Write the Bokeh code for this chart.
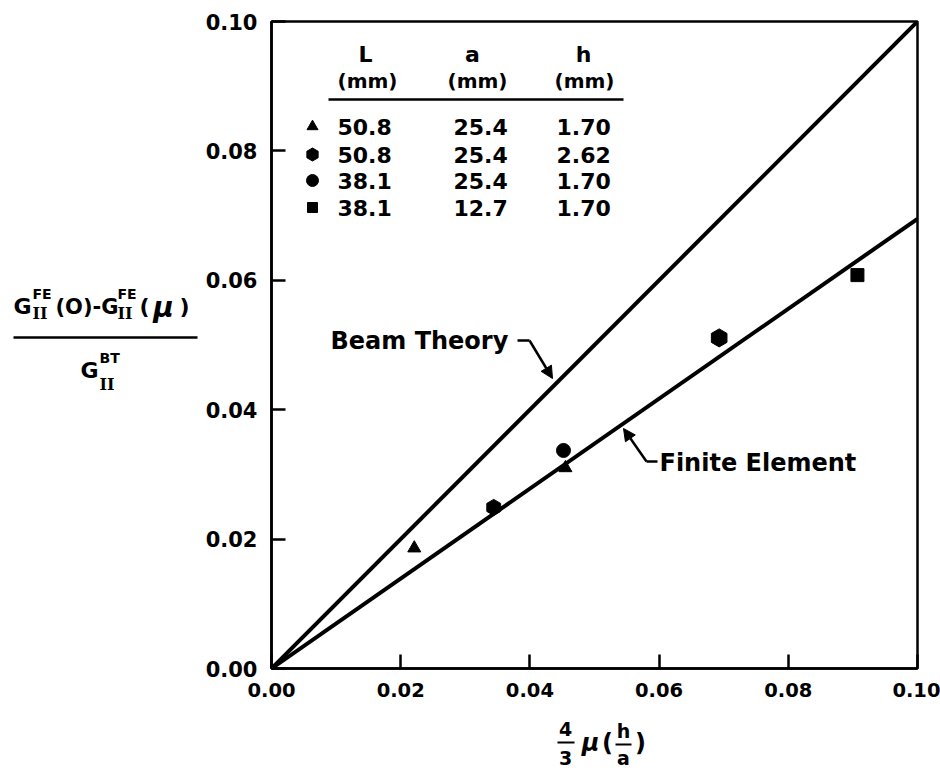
import numpy as np
from bokeh.plotting import figure
from bokeh.layouts import row, column
from bokeh.models import Label, Arrow, NormalHead, FixedTicker, NumeralTickFormatter, Range1d
from bokeh.embed import file_html
from bokeh.resources import INLINE

# ---------------- data ----------------
x_ticks = [0.00, 0.02, 0.04, 0.06, 0.08, 0.10]
y_ticks = [0.00, 0.02, 0.04, 0.06, 0.08, 0.10]

beam_x = [0.0, 0.10]
beam_y = [0.0, 0.10]
fe_x = [0.0, 0.10]
fe_y = [0.0, 0.0695]

tri_x = [0.0221, 0.0455]
tri_y = [0.0186, 0.0310]
hex_x = [0.0344, 0.0693]
hex_y = [0.0249, 0.0511]
circ_x = [0.0452]
circ_y = [0.0337]
sq_x = [0.0907]
sq_y = [0.0608]

tab_L = ["50.8", "50.8", "38.1", "38.1"]
tab_a = ["25.4", "25.4", "25.4", "12.7"]
tab_h = ["1.70", "2.62", "1.70", "1.70"]
tab_marker = ["triangle", "hex", "circle", "square"]
tab_size = [11, 13, 12, 10]

# ---------------- layout constants ----------------
W, H = 940, 773
LEFT_W = 200                 # width of the y-label panel
FL, FT, FW, FH = 271, 21, 646, 647   # frame in page pixels
MAIN_H = 712

FONT = "DejaVu Sans"
SERIF = "DejaVu Serif"

def X(px):
    return (px - FL) / FW * 0.10
def Y(py):
    return (FT + FH - py) / FH * 0.10

def make_label(fig, x, y, text, size="22px", align="left", style="bold",
               font=FONT, baseline="middle"):
    fig.add_layout(Label(x=x, y=y, text=text, text_align=align,
                         text_baseline=baseline, text_font=font,
                         text_font_size=size, text_font_style=style,
                         text_color="black"))

def make_bar(fig, x0, x1, y0, w=2.5):
    fig.add_layout(Arrow(x_start=x0, y_start=y0, x_end=x1, y_end=y0,
                         end=None, line_width=w, line_color="black"))

# ---------------- main figure ----------------
p = figure(width=W - LEFT_W, height=MAIN_H, x_range=(0, 0.10), y_range=(0, 0.10),
           output_backend="svg", toolbar_location=None,
           min_border_left=FL - LEFT_W, min_border_right=W - FL - FW,
           min_border_top=FT, min_border_bottom=MAIN_H - FT - FH)
p.grid.visible = False
p.outline_line_color = "black"
p.outline_line_width = 2.5
p.outline_line_alpha = 1.0

for ax, ticks in ((p.xaxis, x_ticks), (p.yaxis, y_ticks)):
    ax.ticker = FixedTicker(ticks=ticks)
    ax.formatter = NumeralTickFormatter(format="0.00")
    ax.minor_tick_line_color = None
    ax.major_tick_in = 14
    ax.major_tick_out = 0
    ax.major_tick_line_width = 2.5
    ax.major_tick_line_color = "black"
    ax.axis_line_width = 2.5
    ax.axis_line_color = "black"
    ax.major_label_text_font = FONT
    ax.major_label_text_font_style = "bold"
    ax.major_label_text_color = "black"
p.xaxis.major_label_text_font_size = "19.5px"
p.yaxis.major_label_text_font_size = "21px"
p.xaxis.major_label_standoff = 14
p.yaxis.major_label_standoff = 14

p.line(beam_x, beam_y, line_color="black", line_width=4)
p.line(fe_x, fe_y, line_color="black", line_width=4)

p.scatter(tri_x, tri_y, marker="triangle", size=13, color="black")
p.scatter(hex_x, hex_y, marker="hex", size=[16, 18], angle=np.pi / 6, color="black")
p.scatter(circ_x, circ_y, marker="circle", size=14, color="black")
p.scatter(sq_x, sq_y, marker="square", size=13, color="black")

def lab(px, py, text, **kw):
    make_label(p, X(px), Y(py), text, **kw)

# legend table
for cx, head in ((365, "L"), (472, "a"), (583, "h")):
    lab(cx, 54, head, align="center")
for cx in (367, 477, 584):
    lab(cx, 80, "(mm)", size="20px", align="center")
make_bar(p, X(328), X(623), Y(99), 2.5)

row_y = [126, 154, 180, 207]
for i in range(4):
    p.scatter([X(312)], [Y(row_y[i])], marker=tab_marker[i], size=tab_size[i],
              angle=(np.pi / 6 if tab_marker[i] == "hex" else 0), color="black")
    lab(337, row_y[i], tab_L[i])
    lab(453, row_y[i], tab_a[i])
    lab(556, row_y[i], tab_h[i])

# curve annotations
lab(330, 340, "Beam Theory", size="24px")
p.line([X(517), X(529)], [Y(340), Y(340)], line_color="black", line_width=2.5)
p.add_layout(Arrow(x_start=X(529), y_start=Y(340), x_end=X(552), y_end=Y(378),
                   line_width=2.5, line_color="black",
                   end=NormalHead(size=12, fill_color="black", line_color="black")))

lab(659, 462, "Finite Element", size="24px")
p.line([X(657), X(646)], [Y(461), Y(461)], line_color="black", line_width=2.5)
p.add_layout(Arrow(x_start=X(646), y_start=Y(461), x_end=X(623), y_end=Y(428),
                   line_width=2.5, line_color="black",
                   end=NormalHead(size=12, fill_color="black", line_color="black")))

# ---------------- helper panels in page-pixel coordinates ----------------
def blank(width, height, xr, yr):
    f = figure(width=width, height=height, x_range=Range1d(*xr), y_range=Range1d(*yr),
               output_backend="svg", toolbar_location=None, title=None,
               x_axis_type=None, y_axis_type=None,
               min_border_left=0, min_border_right=0, min_border_top=0, min_border_bottom=0)
    f.grid.visible = False
    f.outline_line_color = None
    return f

# y-axis label (fraction); the row aligns this panel's frame with the main frame
yl = blank(LEFT_W, MAIN_H, (0, LEFT_W), (FT + FH, FT))
make_label(yl, 13, 306, "G", size="22px")
make_label(yl, 32, 293, "FE", size="14px")
make_label(yl, 32, 313, "II", size="16px", font=SERIF)
make_label(yl, 55, 306, "(O)-G", size="21px")
make_label(yl, 117, 293, "FE", size="14px")
make_label(yl, 117, 313, "II", size="16px", font=SERIF)
make_label(yl, 139, 306, "(", size="22px")
make_label(yl, 163, 307, "μ", size="28px", align="center", style="bold italic")
make_label(yl, 179, 306, ")", size="22px")
make_bar(yl, 13, 197, 337, 2.5)
make_label(yl, 80, 370, "G", size="22px")
make_label(yl, 99, 357, "BT", size="14px")
make_label(yl, 99, 384, "II", size="16px", font=SERIF)

# x-axis label
xl = blank(W, H - MAIN_H, (0, W), (H, MAIN_H))
make_label(xl, 565, 728, "4", size="19px", align="center")
make_bar(xl, 557, 574, 742, 2)
make_label(xl, 565, 757, "3", size="19px", align="center")
make_label(xl, 590, 742, "μ", size="24px", align="center", style="bold italic")
make_label(xl, 607, 742, "(", size="24px", align="center")
make_label(xl, 623, 730, "h", size="19px", align="center")
make_bar(xl, 615, 631, 744, 2)
make_label(xl, 623, 757, "a", size="19px", align="center")
make_label(xl, 640, 742, ")", size="24px", align="center")

layout = column(row(yl, p), xl)
open("out.html", "w").write(file_html(layout, INLINE))
